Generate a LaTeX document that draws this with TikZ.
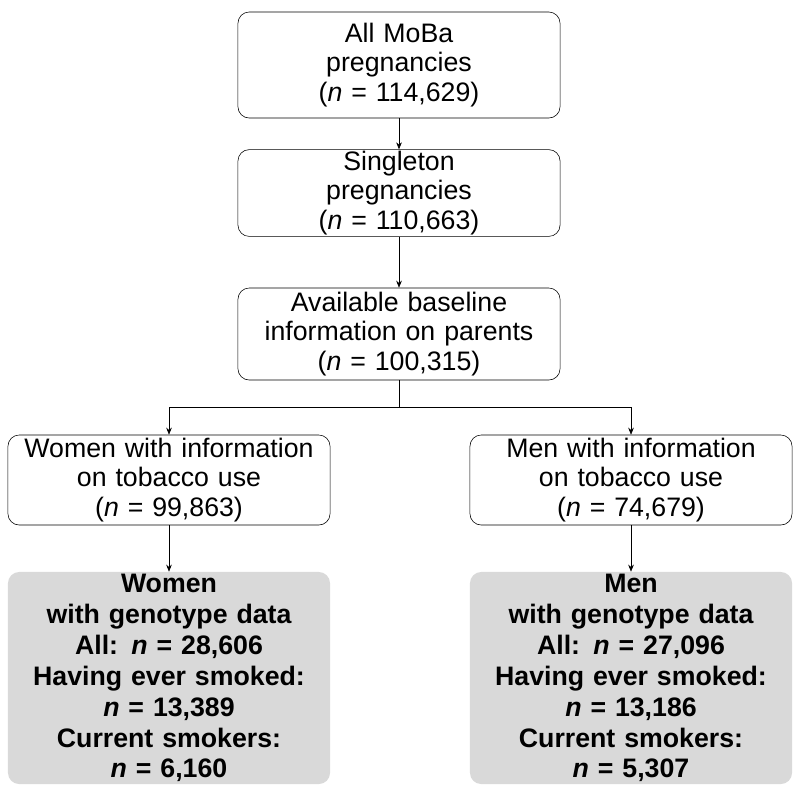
\documentclass[tikz,border=0pt]{standalone}
\usepackage{fontspec}
\setmainfont{Liberation Sans}
\usetikzlibrary{arrows.meta}
\tikzset{
  box/.style={draw, rounded corners=8pt, align=center, text width=7.8cm, minimum width=8.05cm, inner sep=1pt, font=\fontsize{19}{21}\selectfont},
  result/.style={box, draw=none, fill=black!15, font=\bfseries\fontsize{19}{22}\selectfont},
  flow/.style={-{Stealth[length=5pt,width=4pt]}, thin}
}
\begin{document}
\begin{tikzpicture}[x=0.025cm, y=-0.025cm]
\useasboundingbox (0,0) rectangle (800,798);
\node[box, minimum height=2.65cm] (all) at (399,65) {All MoBa\\pregnancies\\(\textit{n} = 114,629)};
\node[box, minimum height=2.15cm] (single) at (399,193) {Singleton\\pregnancies\\(\textit{n} = 110,663)};
\node[box, minimum height=2.3cm] (base) at (399,334) {Available baseline\\information on parents\\(\textit{n} = 100,315)};
\node[box, minimum height=2.25cm] (women) at (169,480) {Women with information\\on tobacco use\\(\textit{n} = 99,863)};
\node[box, minimum height=2.25cm] (men) at (631,480) {Men with information\\on tobacco use\\(\textit{n} = 74,679)};
\node[result, minimum height=5.3cm] (wgeno) at (169,678) {Women\\with genotype data\\All: \textit{n} = 28,606\\Having ever smoked:\\\textit{n} = 13,389\\Current smokers:\\\textit{n} = 6,160};
\node[result, minimum height=5.3cm] (mgeno) at (631,678) {Men\\with genotype data\\All: \textit{n} = 27,096\\Having ever smoked:\\\textit{n} = 13,186\\Current smokers:\\\textit{n} = 5,307};
\coordinate (split) at (399,407);
\draw[flow] (all) -- (single);
\draw[flow] (single) -- (base);
\draw (base) -- (split);
\draw[flow] (split) -| (women);
\draw[flow] (split) -| (men);
\draw[flow] (women) -- (wgeno);
\draw[flow] (men) -- (mgeno);
\end{tikzpicture}
\end{document}
